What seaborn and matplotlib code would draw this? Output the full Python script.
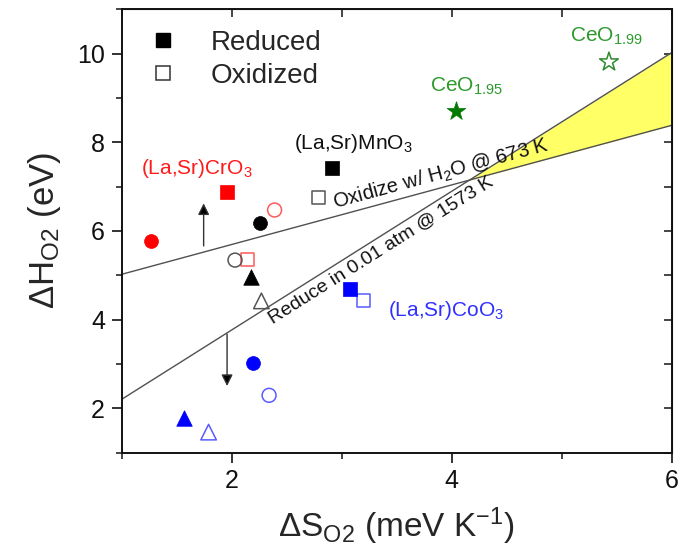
import numpy as np
import pandas as pd
import matplotlib
matplotlib.use("Agg")
import matplotlib.pyplot as plt
from matplotlib.lines import Line2D
import seaborn as sns

# ---------------- data ----------------
family = ["Mn", "Mn", "Mn", "Mn", "Mn", "Mn",
          "Cr", "Cr", "Cr", "Cr",
          "Co", "Co", "Co", "Co", "Co", "Co",
          "Ce", "Ce"]
shape = ["square", "square", "circle", "circle", "triangle", "triangle",
         "square", "square", "circle", "circle",
         "square", "square", "circle", "circle", "triangle", "triangle",
         "star", "star"]
state = ["Reduced", "Oxidized", "Reduced", "Oxidized", "Reduced", "Oxidized",
         "Reduced", "Oxidized", "Reduced", "Oxidized",
         "Reduced", "Oxidized", "Reduced", "Oxidized", "Reduced", "Oxidized",
         "Reduced", "Oxidized"]
dS = [2.91, 2.79, 2.26, 2.03, 2.18, 2.27,
      1.96, 2.14, 1.265, 2.39,
      3.08, 3.20, 2.19, 2.34, 1.57, 1.79,
      4.04, 5.43]
dH = [7.41, 6.76, 6.17, 5.34, 4.95, 4.42,
      6.87, 5.36, 5.77, 6.47,
      4.69, 4.42, 3.03, 2.29, 1.77, 1.46,
      8.70, 9.81]

# theory lines: endpoints at x = 1 and x = 6
line_x = [1.0, 6.0]
oxidize_y = [5.02, 8.38]
reduce_y = [2.20, 10.02]

# material labels
label_text = ["(La,Sr)CrO$_3$", "(La,Sr)MnO$_3$", "(La,Sr)CoO$_3$",
              "CeO$_{1.95}$", "CeO$_{1.99}$"]
label_x = [1.18, 2.57, 3.42, 3.80, 5.08]
label_y = [7.29, 7.85, 4.08, 9.13, 10.26]
label_family = ["Cr", "Mn", "Co", "Ce", "Ce"]

# arrows (x, y_start, y_end)
arrow_x = [1.745, 1.958]
arrow_y0 = [5.66, 3.67]
arrow_y1 = [6.62, 2.50]

x_ticks = [2, 4, 6]
y_ticks = [2, 4, 6, 8, 10]

# ---------------- styles ----------------
fill_color = {"Mn": "#000000", "Cr": "#ff0000", "Co": "#0000ff", "Ce": "#007a00"}
open_color = {"Mn": "#555555", "Cr": "#ff5a5a", "Co": "#5a5aff", "Ce": "#2e8b2e"}
text_color = {"Mn": "#111111", "Cr": "#ff1a1a", "Co": "#3030ff", "Ce": "#2e9a2e"}
marker_map = {"square": "s", "circle": "o", "triangle": "^", "star": "*"}
size_map = {"square": 90, "circle": 100, "triangle": 125, "star": 200}

sns.set_style("ticks")
plt.rcParams["font.family"] = ["Liberation Sans", "DejaVu Sans"]
plt.rcParams["mathtext.fontset"] = "custom"
plt.rcParams["mathtext.rm"] = "Liberation Sans"
plt.rcParams["mathtext.it"] = "Liberation Sans"
plt.rcParams["mathtext.bf"] = "Liberation Sans"

df = pd.DataFrame({"family": family, "shape": shape, "state": state,
                   "dS": dS, "dH": dH})

fig = plt.figure(figsize=(6.86, 5.57), dpi=100)
ax = fig.add_axes([0.1774, 0.1876, 0.8017, 0.7959])

# yellow region between the two lines
lx = np.array(line_x)
ox = np.array(oxidize_y)
rd = np.array(reduce_y)
ox_m = (ox[1] - ox[0]) / (lx[1] - lx[0])
rd_m = (rd[1] - rd[0]) / (lx[1] - lx[0])
x_int = lx[0] + (ox[0] - rd[0]) / (rd_m - ox_m)
xf = np.array([x_int, lx[1]])
ax.fill_between(xf, ox[0] + ox_m * (xf - lx[0]), rd[0] + rd_m * (xf - lx[0]),
                color="#ffff66", lw=0, zorder=1)
ax.plot(line_x, oxidize_y, color="#505050", lw=1.0, zorder=2)
ax.plot(line_x, reduce_y, color="#505050", lw=1.0, zorder=2)

for (fam, shp, st), g in df.groupby(["family", "shape", "state"]):
    if st == "Reduced":
        sns.scatterplot(data=g, x="dS", y="dH", ax=ax, marker=marker_map[shp],
                        s=size_map[shp], color=fill_color[fam],
                        edgecolor=fill_color[fam], linewidth=0.5, zorder=4,
                        legend=False)
    else:
        sns.scatterplot(data=g, x="dS", y="dH", ax=ax, marker=marker_map[shp],
                        s=size_map[shp], facecolor="none",
                        edgecolor=open_color[fam], linewidth=1.1, zorder=4,
                        legend=False)

# arrows
for xa, y0, y1 in zip(arrow_x, arrow_y0, arrow_y1):
    ax.annotate("", xy=(xa, y1), xytext=(xa, y0),
                arrowprops=dict(arrowstyle="-|>", color="#555555", lw=1.0,
                                mutation_scale=17, shrinkA=0, shrinkB=0,
                                fc="black", ec="#333333"), zorder=3)

# material labels
for t, xt, yt, fam in zip(label_text, label_x, label_y, label_family):
    ax.text(xt, yt, t, color=text_color[fam], fontsize=15, ha="left",
            va="baseline", zorder=5)

ax.set_xlim(1, 6)
ax.set_ylim(1, 11)

# line labels, rotated along the lines
ang_ox = np.degrees(np.arctan(ox_m))
ang_rd = np.degrees(np.arctan(rd_m))
xo = 3.93
ax.text(xo, ox[0] + ox_m * (xo - lx[0]) + 0.08, "Oxidize w/ H$_2$O @ 673 K",
        fontsize=14.5, rotation=ang_ox, rotation_mode="anchor",
        transform_rotates_text=True, ha="center", va="bottom", color="#111111",
        zorder=5)
xr = 3.32
ax.text(xr, rd[0] + rd_m * (xr - lx[0]) - 0.10, "Reduce in 0.01 atm @ 1573 K",
        fontsize=14, rotation=ang_rd, rotation_mode="anchor",
        transform_rotates_text=True, ha="center", va="top", color="#111111",
        zorder=5)

# ticks
ax.set_xticks(x_ticks)
ax.set_yticks(y_ticks)
ax.set_xticks([1, 3, 5], minor=True)
ax.set_yticks([1, 3, 5, 7, 9, 11], minor=True)
ax.tick_params(which="major", direction="out", length=7, width=1.2,
               labelsize=18, pad=5, colors="#111111")
ax.tick_params(which="minor", direction="out", length=4, width=1.2)
for sp in ax.spines.values():
    sp.set_linewidth(1.4)
    sp.set_color("#111111")
    sp.set_visible(True)

secx = ax.secondary_xaxis("top")
secx.set_xticks([1, 2, 3, 4, 5, 6])
secx.tick_params(direction="in", length=6, width=1.2, labeltop=False)
secy = ax.secondary_yaxis("right")
secy.set_yticks([1, 2, 3, 4, 5, 6, 7, 8, 9, 10, 11])
secy.tick_params(direction="in", length=6, width=1.2, labelright=False)

ax.set_xlabel(r"$\Delta$S$_{\mathregular{O2}}$ (meV K$^{\mathregular{-1}}$)",
              fontsize=24, labelpad=9)
ax.set_ylabel(r"$\Delta$H$_{\mathregular{O2}}$ (eV)", fontsize=25, labelpad=10)

handles = [Line2D([], [], marker="s", ls="none", color="black", markersize=10),
           Line2D([], [], marker="s", ls="none", markerfacecolor="none",
                  markeredgecolor="#333333", markeredgewidth=1.1, markersize=10)]
ax.legend(handles, ["Reduced", "Oxidized"], loc="upper left",
          bbox_to_anchor=(0.0, 1.01), frameon=False, fontsize=20,
          handletextpad=1.1, labelspacing=0.25, handlelength=1.2)

fig.savefig("out.png", dpi=100)
